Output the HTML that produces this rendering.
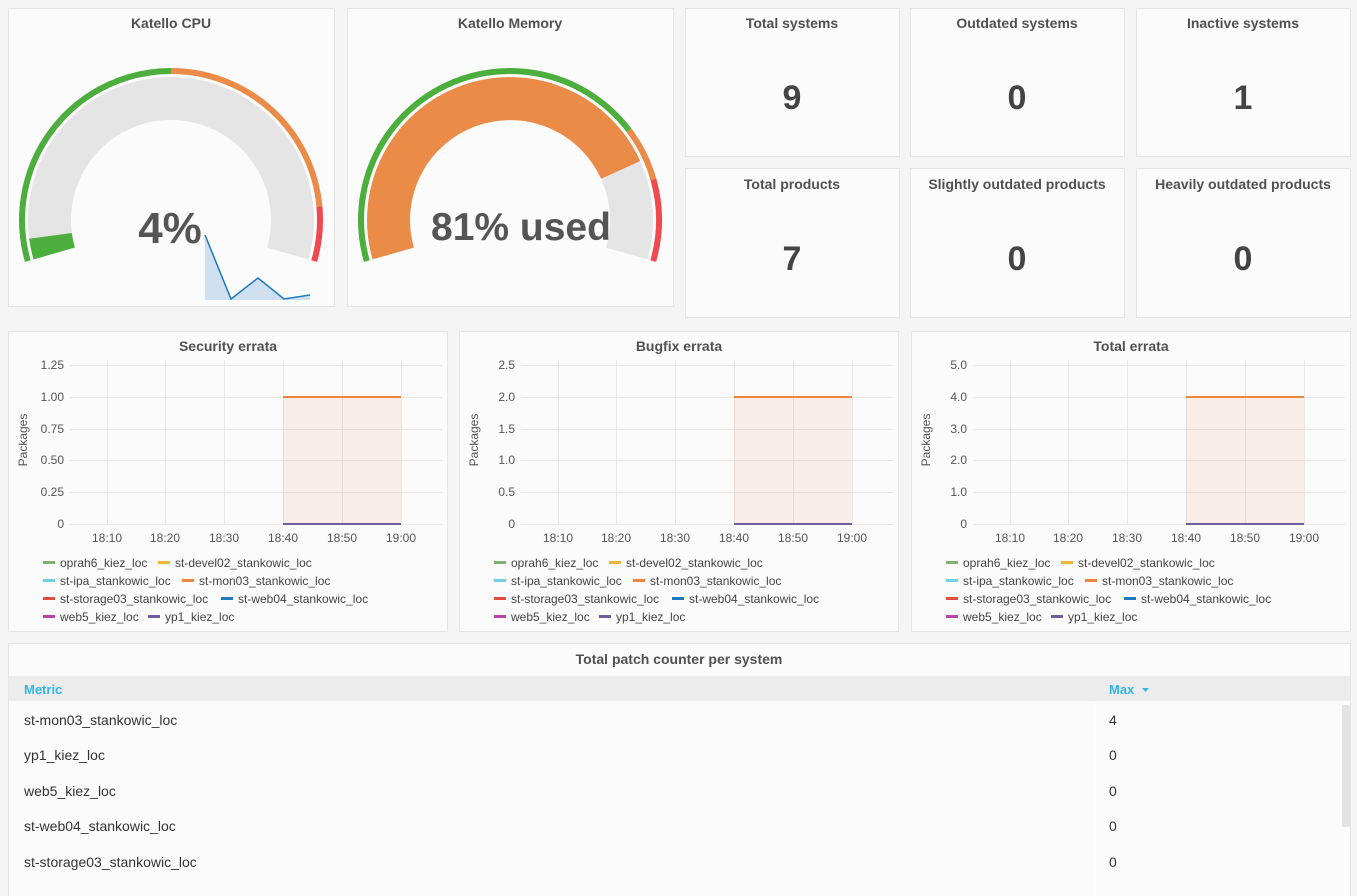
<!DOCTYPE html>
<html><head><meta charset="utf-8"><style>
html,body{margin:0;padding:0;background:#f5f5f5;}
svg{display:block;font-family:"Liberation Sans",sans-serif;}
</style></head><body>
<svg width="1357" height="896" viewBox="0 0 1357 896" xmlns="http://www.w3.org/2000/svg">
<rect width="1357" height="896" fill="#f5f5f5"/>
<g fill="#fbfbfb" stroke="#e6e6e6" stroke-width="1">
<rect x="8.5" y="8.5" width="326" height="298"/>
<rect x="347.5" y="8.5" width="326" height="298"/>
<rect x="685.5" y="8.5" width="214" height="148"/>
<rect x="910.5" y="8.5" width="214" height="148"/>
<rect x="1136.5" y="8.5" width="214" height="148"/>
<rect x="685.5" y="168.5" width="214" height="149"/>
<rect x="910.5" y="168.5" width="214" height="149"/>
<rect x="1136.5" y="168.5" width="214" height="149"/>
<rect x="8.5" y="331.5" width="439" height="300"/>
<rect x="459.5" y="331.5" width="439" height="300"/>
<rect x="911.5" y="331.5" width="439" height="300"/>
<rect x="8.5" y="643.5" width="1342" height="260"/>
</g>
<g font-size="14" fill="#333" text-anchor="middle" font-weight="bold" opacity="0.85">
<text x="171" y="28">Katello CPU</text>
<text x="510" y="28">Katello Memory</text>
<text x="792" y="28">Total systems</text>
<text x="1017" y="28">Outdated systems</text>
<text x="1243" y="28">Inactive systems</text>
<text x="792" y="189">Total products</text>
<text x="1017" y="189">Slightly outdated products</text>
<text x="1243" y="189">Heavily outdated products</text>
<text x="228" y="351">Security errata</text>
<text x="679" y="351">Bugfix errata</text>
<text x="1131" y="351">Total errata</text>
<text x="679" y="664">Total patch counter per system</text>
</g>
<g font-size="34" font-weight="bold" fill="#444" text-anchor="middle">
<text x="792" y="109">9</text><text x="1017" y="109">0</text><text x="1243" y="109">1</text>
<text x="792" y="270">7</text><text x="1017" y="270">0</text><text x="1243" y="270">0</text>
</g>
<!-- CPU gauge -->
<g fill="none">
<path d="M54.2,253.5 A121.5,121.5 0 1 1 287.8,253.5" stroke="#e5e5e5" stroke-width="43"/>
<path d="M54.2,253.5 A121.5,121.5 0 0 1 50.5,235.9" stroke="#4cae3c" stroke-width="43"/>
<path d="M27.8,261.1 A149,149 0 0 1 171,71" stroke="#4cae3c" stroke-width="6"/>
<path d="M171,71 A149,149 0 0 1 319.4,206.5" stroke="#ea8b48" stroke-width="6"/>
<path d="M319.4,206.5 A149,149 0 0 1 314.2,261.1" stroke="#ef4a4f" stroke-width="6"/>
</g>
<polygon points="205,235 231,299 258,278 284,299 310,295 310,300 205,300" fill="rgba(31,120,193,0.2)"/>
<polyline points="205,235 231,299 258,278 284,299 310,295" fill="none" stroke="#1f78c1" stroke-width="1.5"/>
<text x="170" y="243" font-size="44" font-weight="bold" fill="#555" text-anchor="middle">4%</text>
<!-- Memory gauge -->
<g fill="none">
<path d="M393.2,253.5 A121.5,121.5 0 0 1 620.7,170" stroke="#ea8b48" stroke-width="43"/>
<path d="M620.7,170 A121.5,121.5 0 0 1 626.8,253.5" stroke="#e5e5e5" stroke-width="43"/>
<path d="M366.8,261.1 A149,149 0 0 1 629,130.3" stroke="#4cae3c" stroke-width="6"/>
<path d="M629,130.3 A149,149 0 0 1 653.4,179.4" stroke="#ea8b48" stroke-width="6"/>
<path d="M653.4,179.4 A149,149 0 0 1 653.2,261.1" stroke="#ef4a4f" stroke-width="6"/>
</g>
<text x="521" y="240" font-size="39" font-weight="bold" fill="#555" text-anchor="middle">81% used</text>

<!-- graph template -->
<defs>
<g id="grid">
<g stroke="#e8e8e8" stroke-width="1">
<line x1="70" y1="365.5" x2="442" y2="365.5"/><line x1="70" y1="397.5" x2="442" y2="397.5"/>
<line x1="70" y1="429.5" x2="442" y2="429.5"/><line x1="70" y1="460.5" x2="442" y2="460.5"/>
<line x1="70" y1="492.5" x2="442" y2="492.5"/><line x1="70" y1="524.5" x2="442" y2="524.5"/>
<line x1="107.5" y1="360" x2="107.5" y2="525"/><line x1="165.5" y1="360" x2="165.5" y2="525"/>
<line x1="224.5" y1="360" x2="224.5" y2="525"/><line x1="283.5" y1="360" x2="283.5" y2="525"/>
<line x1="342.5" y1="360" x2="342.5" y2="525"/><line x1="401.5" y1="360" x2="401.5" y2="525"/>
</g>
<rect x="283" y="397" width="118" height="127" fill="rgba(239,132,60,0.1)"/>
<line x1="283" y1="397" x2="401" y2="397" stroke="#ef843c" stroke-width="2"/>
<line x1="283" y1="524" x2="401" y2="524" stroke="#705da0" stroke-width="2"/>
<g font-size="12" fill="#555" text-anchor="middle">
<text x="107" y="542">18:10</text><text x="165" y="542">18:20</text><text x="224" y="542">18:30</text>
<text x="283" y="542">18:40</text><text x="342" y="542">18:50</text><text x="401" y="542">19:00</text>
</g>
<text transform="translate(27,440) rotate(-90)" font-size="12" fill="#555" text-anchor="middle">Packages</text>
<g font-size="12" fill="#444">
<rect x="43" y="561" width="12" height="3" fill="#7eb26d"/><text x="60" y="567">oprah6_kiez_loc</text>
<rect x="158" y="561" width="12" height="3" fill="#eab839"/><text x="175" y="567">st-devel02_stankowic_loc</text>
<rect x="43" y="579" width="12" height="3" fill="#6ed0e0"/><text x="60" y="585">st-ipa_stankowic_loc</text>
<rect x="182" y="579" width="12" height="3" fill="#ef843c"/><text x="199" y="585">st-mon03_stankowic_loc</text>
<rect x="43" y="597" width="12" height="3" fill="#e24d42"/><text x="60" y="603">st-storage03_stankowic_loc</text>
<rect x="221" y="597" width="12" height="3" fill="#1f78c1"/><text x="238" y="603">st-web04_stankowic_loc</text>
<rect x="43" y="615" width="12" height="3" fill="#ba43a9"/><text x="60" y="621">web5_kiez_loc</text>
<rect x="148" y="615" width="12" height="3" fill="#705da0"/><text x="165" y="621">yp1_kiez_loc</text>
</g>
</g>
</defs>
<use href="#grid"/>
<use href="#grid" transform="translate(451,0)"/>
<use href="#grid" transform="translate(903,0)"/>
<g font-size="12" fill="#555" text-anchor="end">
<text x="64" y="369">1.25</text><text x="64" y="401">1.00</text><text x="64" y="433">0.75</text>
<text x="64" y="464">0.50</text><text x="64" y="496">0.25</text><text x="64" y="528">0</text>
<text x="515" y="369">2.5</text><text x="515" y="401">2.0</text><text x="515" y="433">1.5</text>
<text x="515" y="464">1.0</text><text x="515" y="496">0.5</text><text x="515" y="528">0</text>
<text x="967" y="369">5.0</text><text x="967" y="401">4.0</text><text x="967" y="433">3.0</text>
<text x="967" y="464">2.0</text><text x="967" y="496">1.0</text><text x="967" y="528">0</text>
</g>
<!-- table -->
<rect x="9" y="676" width="1341" height="25" fill="#ececec"/>
<g fill="#fbfbfb">
<rect x="9" y="703" width="1331" height="34"/>
<rect x="9" y="739" width="1331" height="34"/>
<rect x="9" y="775" width="1331" height="33"/>
<rect x="9" y="810" width="1331" height="34"/>
<rect x="9" y="846" width="1331" height="34"/>
<rect x="9" y="882" width="1331" height="14"/>
</g>
<line x1="1094.5" y1="702" x2="1094.5" y2="896" stroke="#fff" stroke-width="1"/>
<rect x="1342" y="705" width="8" height="122" rx="2" fill="#e3e3e3"/>
<g font-size="13" font-weight="bold" fill="#33b5e5">
<text x="24" y="694">Metric</text><text x="1109" y="694">Max</text>
</g>
<path d="M1142,688 l7,0 l-3.5,4 z" fill="#33b5e5"/>
<g font-size="14" fill="#333">
<text x="24" y="725">st-mon03_stankowic_loc</text><text x="1109" y="725">4</text>
<text x="24" y="760">yp1_kiez_loc</text><text x="1109" y="760">0</text>
<text x="24" y="796">web5_kiez_loc</text><text x="1109" y="796">0</text>
<text x="24" y="831">st-web04_stankowic_loc</text><text x="1109" y="831">0</text>
<text x="24" y="867">st-storage03_stankowic_loc</text><text x="1109" y="867">0</text>
</g>
</svg>
</body></html>
